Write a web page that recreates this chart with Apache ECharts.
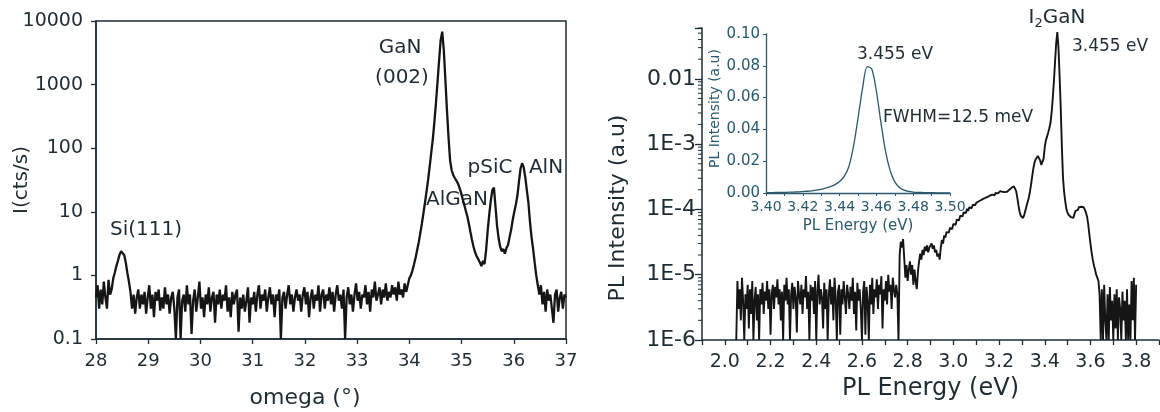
<!DOCTYPE html>
<html><head><meta charset="utf-8">
<script src="https://cdn.jsdelivr.net/npm/echarts@6/dist/echarts.min.js"></script>
<style>html,body{margin:0;padding:0;background:#fff}#c{width:1160px;height:412px}</style>
</head><body><div id="c"></div>
<script>
// ---------- Left panel: XRD omega scan ----------
const omegaStart = 28.0;
const omegaStep = 0.03;
const omegaTicks = [28, 29, 30, 31, 32, 33, 34, 35, 36, 37];
const xrdTickLabels = ['0.1', '1', '10', '100', '1000', '10000'];
// intensity in cts/s, one value per omegaStep starting at omegaStart (10 per line = 0.3 deg)
const xrdCounts = [
  0.45,0.7,0.3,0.6,0.35,0.8,0.45,0.3,0.85,0.5,
  0.6,0.9,1.1,1.4,1.7,2.1,2.4,2.5,2.1,1.6,
  1.1,0.8,0.55,0.3,0.5,0.25,0.45,0.6,0.3,0.5,
  0.35,0.55,0.25,0.45,0.7,0.3,0.5,0.22,0.55,0.4,
  0.6,0.28,0.45,0.3,0.65,0.35,0.5,0.25,0.45,0.55,
  0.3,0.1,0.45,0.6,0.1,0.4,0.5,0.27,0.7,0.35,
  0.5,0.12,0.4,0.6,0.27,0.45,0.8,0.3,0.45,0.22,
  0.5,0.35,0.65,0.27,0.45,0.55,0.18,0.5,0.35,0.6,
  0.3,0.5,0.4,0.7,0.27,0.45,0.22,0.55,0.35,0.5,
  0.6,0.13,0.45,0.3,0.5,0.27,0.4,0.65,0.18,0.45,
  0.35,0.55,0.27,0.5,0.7,0.3,0.5,0.4,0.6,0.27,
  0.45,0.65,0.35,0.5,0.22,0.5,0.4,0.6,0.1,0.45,
  0.55,0.3,0.5,0.7,0.35,0.5,0.27,0.45,0.6,0.4,
  0.5,0.27,0.5,0.65,0.35,0.55,0.22,0.45,0.6,0.3,
  0.5,0.4,0.7,0.27,0.5,0.6,0.3,0.5,0.4,0.65,
  0.35,0.55,0.27,0.5,0.7,0.4,0.5,0.3,0.6,0.1,
  0.45,0.65,0.35,0.5,0.27,0.5,0.75,0.4,0.55,0.3,
  0.5,0.45,0.7,0.35,0.55,0.27,0.6,0.45,0.8,0.4,
  0.5,0.65,0.35,0.6,0.45,0.75,0.4,0.55,0.45,0.7,
  0.5,0.65,0.4,0.8,0.5,0.6,0.45,0.75,0.55,0.7,
  0.9,1.0,1.2,1.5,1.9,2.5,3.3,4.6,6.5,9.5,
  14,21,32,52,85,140,260,520,1100,2400,
  5000,6800,3500,1200,400,150,65,45,38,34,
  31,28,24,20,16,13,10.5,8.5,6.5,4.8,
  3.6,2.8,2.3,2.0,1.8,1.6,1.4,1.7,1.5,2.5,
  5,9,15,22,24,12,6,3.8,2.8,2.4,
  2.6,2.2,2.7,3.0,4.0,5.2,7.5,10,13,18,
  30,48,58,50,35,22,14,7,4,2.6,
  1.6,1.0,0.7,0.5,0.7,0.35,0.55,0.27,0.6,0.4,
  0.5,0.3,0.18,0.5,0.6,0.27,0.45,0.55,0.3,0.5,
  0.45
];

// ---------- Right panel: PL spectrum ----------
const plEnergyStart = 2.05;
const plEnergyStep = 0.005;
const plUnit = 1e-6; // values below are in units of 1E-6 a.u.
const plIntensityMicro = [
  1,8,3,6,2,9,4,1,5,3,
  7,1.5,6,2.5,8,1,4,6.5,2,5,
  1,6,3.5,7.5,2.5,5.5,4,8,3,6,
  1.2,5,7,3,6.5,4.5,8.5,3.5,6,2,
  5.5,1,7,4,9,3.5,6,1,5,7.5,
  3,6.5,4.5,1.3,8,5,3.5,7,2.5,6,
  4.5,9.5,3,5.5,1,7,4,6.5,2.5,8,
  1,5.5,10,3.5,6,4.5,1.5,7.5,3,6,
  1,5,8.5,3.5,6.5,2,9,4.5,1,5.5,
  7,1.2,6,3.5,8,4.5,2.5,7,5,3,
  6.5,4,9,2.5,5.5,1.4,7.5,4,6,3,
  1,5.5,8,1.2,6.5,4,1,7,3.5,9,
  2.5,6,4.5,8.5,3,7,5,9.5,1.5,6,
  4,8,3.5,10,5.5,7,3,9,6,4.5,
  7,5,1,20,32,26,35,18,9,14,
  8,12,16,10,14,7,12,8,6,11,
  16,21,17,24,20,27,23,28,22,26,
  26,30,25,28,22,24,19,21,17,26,
  34,30,40,37,45,48,44,52,55,50,
  60,64,58,70,74,68,80,85,78,90,
  96,88,102,95,108,112,104,118,122,115,
  126,120,132,128,138,134,145,140,150,146,
  156,150,162,158,168,172,165,178,185,176,
  182,190,180,186,178,184,190,186,195,200,
  210,215,222,225,218,190,150,115,92,80,
  76,74,82,95,112,130,150,185,240,320,
  420,520,580,620,660,640,560,480,450,600,
  900,1150,1300,1500,1750,2100,3000,5000,9000,18000,
  35000,52000,30000,11000,3500,900,300,180,130,100,
  88,82,78,76,80,74,85,95,100,98,
  108,112,110,114,108,100,90,78,60,42,
  30,22,17,14,12,10,9,8,5,1,
  6,1,7,2,1,5,1,6.5,2,4,
  1,5,1.5,6,1,4.5,3,1,5.5,2,
  4,1,6,1,3.5,1,8,2,9,1,
  7
];
const plMinorMultipliers = [2, 3, 4, 5, 6, 7, 8, 9];
const plDecades = [-6, -5, -4, -3, -2];

// ---------- Inset ----------
const insetEnergy = [
  3.400,3.4025,3.405,3.4075,3.410,3.4125,3.415,3.4175,3.420,3.4225,
  3.425,3.4275,3.430,3.4325,3.435,3.4375,3.440,3.4425,3.445,3.4475,
  3.450,3.4525,3.455,3.4575,3.460,3.4625,3.465,3.4675,3.470,3.4725,
  3.475,3.4775,3.480,3.4825,3.485,3.4875,3.490,3.4925,3.495,3.4975,3.500
];
const insetIntensity = [
  0.0002,0.0002,0.0003,0.0003,0.0004,0.0005,0.0006,0.0007,0.0009,0.0011,
  0.0014,0.0018,0.0023,0.0030,0.0040,0.0053,0.0072,0.0105,0.0165,0.0290,
  0.0470,0.0660,0.0795,0.0780,0.0640,0.0440,0.0260,0.0140,0.0070,0.0035,
  0.0018,0.0010,0.0006,0.0004,0.0003,0.0002,0.0002,0.0001,0.0001,0.0001,0.0001
];

// ---------- build ----------
const xrdData = xrdCounts.map((v, i) => [omegaStart + i * omegaStep, v]);
const plData = plIntensityMicro.map((v, i) => [plEnergyStart + i * plEnergyStep, v * plUnit]);
const insetData = insetEnergy.map((e, i) => [e, insetIntensity[i]]);
const plXMin = 1.9, plXMax = 3.9;
const minorData = [];
plDecades.forEach(d => plMinorMultipliers.forEach(m => {
  const v = m * Math.pow(10, d);
  if (v <= 0.06) minorData.push([plXMin, v]);
}));

const FONT = 'DejaVu Sans';
const TXT = '#1f2c33';
const AX = '#1c2d36';
const INS = '#2a5a6c';

const axisBase = (color) => ({
  axisLine: { show: true, onZero: false, lineStyle: { color: color, width: 1.5 } },
  axisTick: { show: true, inside: false, length: 5, lineStyle: { color: color, width: 1.3 } },
  splitLine: { show: false },
  minorTick: { show: false },
  nameMoveOverlap: false
});

const chart = echarts.init(document.getElementById('c'), null, { renderer: 'canvas' });
chart.setOption({
  animation: false,
  backgroundColor: '#fff',
  textStyle: { fontFamily: FONT, color: TXT },
  grid: [
    { left: 96, top: 21, width: 470, height: 318, show: true, borderColor: AX, borderWidth: 1.5, outerBoundsMode: 'none' },
    { left: 702, top: 28, width: 457, height: 312, outerBoundsMode: 'none' },
    { left: 766, top: 34, width: 184, height: 159, outerBoundsMode: 'none' }
  ],
  xAxis: [
    Object.assign(axisBase(AX), {
      type: 'value', gridIndex: 0, min: omegaTicks[0], max: omegaTicks[omegaTicks.length - 1], interval: 1,
      axisLabel: { fontSize: 18, color: TXT, fontFamily: FONT, margin: 13 },
      name: 'omega (°)', nameLocation: 'middle', nameGap: 48,
      nameTextStyle: { fontSize: 22, color: TXT, fontFamily: FONT, padding: [0, 52, 0, 0] }
    }),
    Object.assign(axisBase(AX), {
      type: 'value', gridIndex: 1, min: plXMin, max: plXMax, interval: 0.1,
      axisLabel: { fontSize: 19, color: TXT, fontFamily: FONT, margin: 13, showMaxLabel: true,
        formatter: v => { const t = Math.round(v * 10); return t % 2 === 0 ? (t / 10).toFixed(1) : ''; } },
      name: 'PL Energy (eV)', nameLocation: 'middle', nameGap: 37,
      nameTextStyle: { fontSize: 24, color: TXT, fontFamily: FONT }
    }),
    Object.assign(axisBase(INS), {
      type: 'value', gridIndex: 2, min: 3.40, max: 3.50, interval: 0.01,
      axisTick: { show: true, length: 3, lineStyle: { color: INS, width: 1 } },
      axisLine: { show: true, onZero: false, lineStyle: { color: INS, width: 1.3 } },
      axisLabel: { fontSize: 14, color: INS, fontFamily: FONT, margin: 7, showMaxLabel: true,
        formatter: v => { const t = Math.round(v * 100); return t % 2 === 0 ? (t / 100).toFixed(2) : ''; } },
      name: 'PL Energy (eV)', nameLocation: 'middle', nameGap: 26,
      nameTextStyle: { fontSize: 15, color: INS, fontFamily: FONT }
    })
  ],
  yAxis: [
    Object.assign(axisBase(AX), {
      type: 'log', logBase: 10, gridIndex: 0, min: 0.1, max: 10000,
      axisLabel: { fontSize: 19, color: TXT, fontFamily: FONT, margin: 13,
        formatter: v => { const e = Math.round(Math.log10(v)); return xrdTickLabels[e + 1] || ''; } },
      name: 'I(cts/s)', nameLocation: 'middle', nameGap: 64,
      nameTextStyle: { fontSize: 20, color: TXT, fontFamily: FONT }
    }),
    Object.assign(axisBase(AX), {
      type: 'log', logBase: 10, gridIndex: 1, min: 1e-6, max: 0.06,
      axisTick: { show: true, inside: false, length: 7, lineStyle: { color: AX, width: 1.3 } },
      axisLabel: { fontSize: 22, color: TXT, fontFamily: FONT, margin: 6,
        formatter: v => { const e = Math.log10(v); const r = Math.round(e);
          if (Math.abs(e - r) > 1e-6) return ''; return r === -2 ? '0.01' : '1E' + r; } },
      name: 'PL Intensity (a.u)', nameLocation: 'middle', nameGap: 73,
      nameTextStyle: { fontSize: 22, color: TXT, fontFamily: FONT, padding: [0, 48, 0, 0] }
    }),
    Object.assign(axisBase(INS), {
      type: 'value', gridIndex: 2, min: 0, max: 0.10, interval: 0.02,
      axisTick: { show: true, length: 3, lineStyle: { color: INS, width: 1 } },
      axisLine: { show: true, onZero: false, lineStyle: { color: INS, width: 1.3 } },
      axisLabel: { fontSize: 15, color: INS, fontFamily: FONT, margin: 6, formatter: v => v.toFixed(2) },
      name: 'PL Intensity (a.u)', nameLocation: 'middle', nameGap: 44,
      nameTextStyle: { fontSize: 14, color: INS, fontFamily: FONT, padding: [0, 0, 0, 10] }
    })
  ],
  series: [
    { type: 'line', xAxisIndex: 0, yAxisIndex: 0, data: xrdData, showSymbol: false, clip: true,
      lineStyle: { color: '#151515', width: 2.3 } },
    { type: 'line', xAxisIndex: 1, yAxisIndex: 1, data: plData, showSymbol: false, clip: true,
      lineStyle: { color: '#151515', width: 1.9 } },
    { type: 'line', xAxisIndex: 2, yAxisIndex: 2, data: insetData, showSymbol: false, smooth: 0.3,
      lineStyle: { color: INS, width: 1.3 } },
    { type: 'custom', xAxisIndex: 1, yAxisIndex: 1, data: minorData, encode: { x: 0, y: 1 }, silent: true,
      renderItem: (params, api) => {
        const p = api.coord([api.value(0), api.value(1)]);
        return { type: 'line', shape: { x1: p[0] - 4, y1: p[1], x2: p[0], y2: p[1] },
          style: { stroke: AX, lineWidth: 1 } };
      } }
  ],
  graphic: [
    { type: 'text', x: 146, y: 230, style: { text: 'Si(111)', font: '20px DejaVu Sans', fill: TXT, textAlign: 'center', textVerticalAlign: 'middle' } },
    { type: 'text', x: 400, y: 48, style: { text: 'GaN', font: '20px DejaVu Sans', fill: TXT, textAlign: 'center', textVerticalAlign: 'middle' } },
    { type: 'text', x: 402, y: 78, style: { text: '(002)', font: '20px DejaVu Sans', fill: TXT, textAlign: 'center', textVerticalAlign: 'middle' } },
    { type: 'text', x: 490, y: 168, style: { text: 'pSiC', font: '20px DejaVu Sans', fill: TXT, textAlign: 'center', textVerticalAlign: 'middle' } },
    { type: 'text', x: 546, y: 168, style: { text: 'AlN', font: '20px DejaVu Sans', fill: TXT, textAlign: 'center', textVerticalAlign: 'middle' } },
    { type: 'text', x: 457, y: 200, style: { text: 'AlGaN', font: '20px DejaVu Sans', fill: TXT, textAlign: 'center', textVerticalAlign: 'middle' } },
    { type: 'text', x: 1057, y: 18, style: { text: 'I{s|2}GaN', font: '20px DejaVu Sans', fill: TXT, textAlign: 'center', textVerticalAlign: 'middle',
        rich: { s: { fontSize: 13, fontFamily: FONT, fill: TXT, padding: [12, 0, 0, 0] } } } },
    { type: 'text', x: 1110, y: 47, style: { text: '3.455 eV', font: '17px DejaVu Sans', fill: TXT, textAlign: 'center', textVerticalAlign: 'middle' } },
    { type: 'text', x: 895, y: 55, style: { text: '3.455 eV', font: '17px DejaVu Sans', fill: TXT, textAlign: 'center', textVerticalAlign: 'middle' } },
    { type: 'text', x: 958, y: 118, style: { text: 'FWHM=12.5 meV', font: '17px DejaVu Sans', fill: TXT, textAlign: 'center', textVerticalAlign: 'middle' } }
  ]
});
</script>
</body></html>
